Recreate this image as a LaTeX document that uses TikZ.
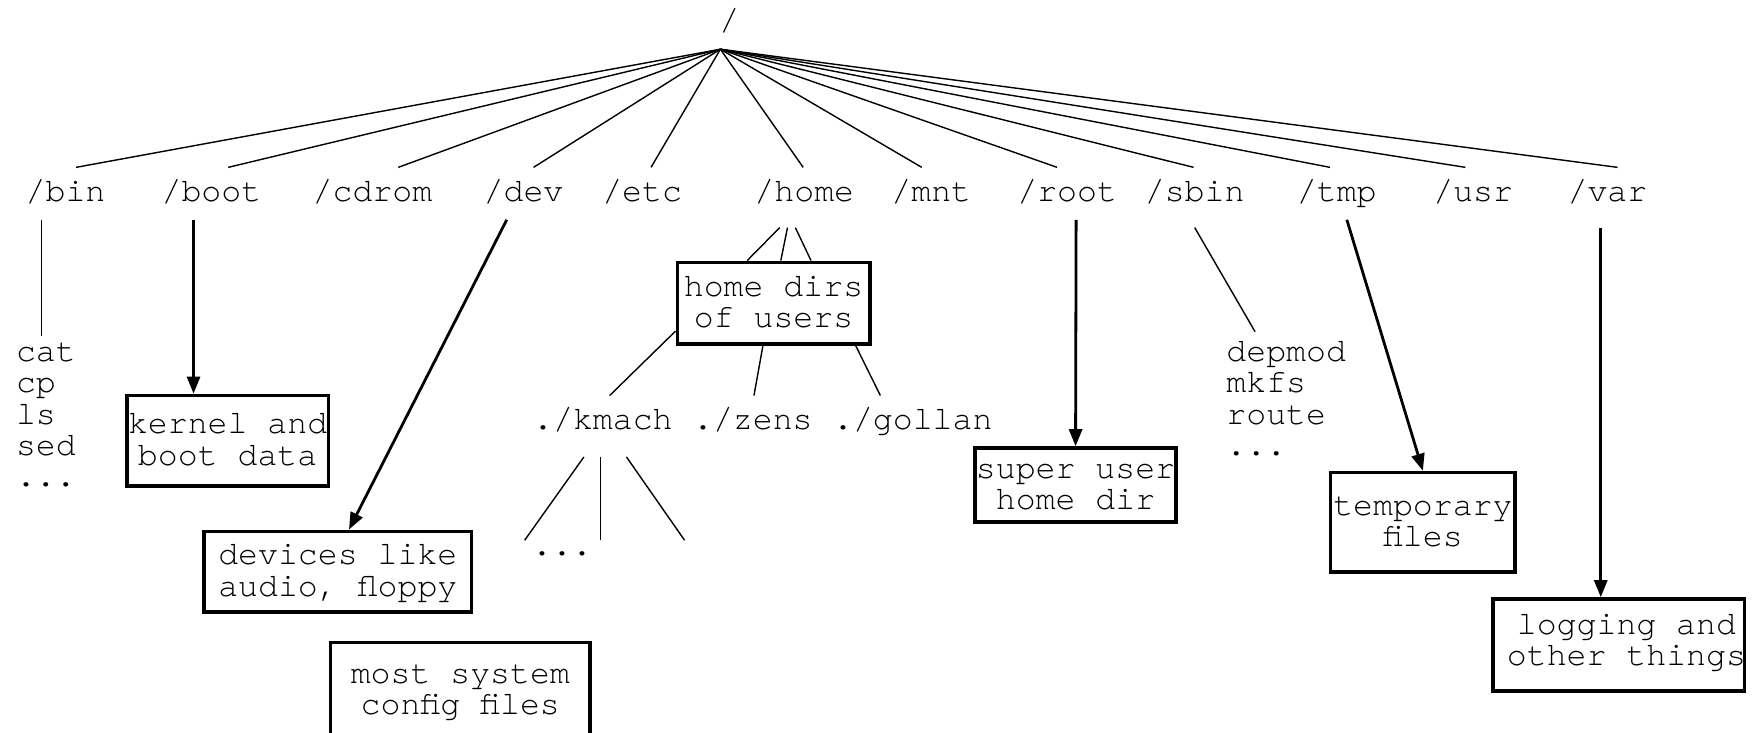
\documentclass[tikz,border=0pt]{standalone}
\usepackage{fontspec}
\setmonofont{texgyrecursor-regular.otf}
\usetikzlibrary{arrows.meta,calc}
\newcommand\mystrut{\rule[-3.4pt]{0pt}{15.7pt}}
\newcommand\deepstrut[1]{\rule[-#1]{0pt}{15.7pt}}
\newcommand\shiftline[2]{\hspace*{#1}#2\hspace*{-#1}}
\begin{document}
\begin{tikzpicture}[x=0.5593pt,y=-0.5593pt,
  every node/.style={font=\ttfamily\fontsize{16.6}{15.7}\selectfont},
  dir/.style={anchor=base, inner xsep=0pt, inner ysep=4.5pt, text height=12.3pt, text depth=4.5pt},
  flist/.style={anchor=north west, inner sep=0pt, align=left},
  info/.style={draw, line width=1.8pt, inner sep=0pt, align=center},
  tline/.style={line width=0.7pt},
  arr/.style={line width=1.4pt, -{Triangle[length=8.5pt,width=6.5pt]}},
]
\useasboundingbox (0,0) rectangle (1568,655);
\clip (0,0) rectangle (1568,655);

% root
\node[dir] (root) at (652,27) {/};
\coordinate (apex) at ($(root.base)+(-8,17)$);

% first level
\node[dir] (bin) at (58.6,180) {/bin};
\node[dir] (boot) at (189,180) {/boot};
\node[dir] (cdrom) at (333,180) {/cdrom};
\node[dir] (dev) at (468,180) {/dev};
\node[dir] (etc) at (574,180) {/etc};
\node[dir] (home) at (719,180) {/home};
\node[dir] (mnt) at (832.5,180) {/mnt};
\node[dir] (rootdir) at (954,180) {/root};
\node[dir] (sbin) at (1068,180) {/sbin};
\node[dir] (tmp) at (1195,180) {/tmp};
\node[dir] (usr) at (1317,180) {/usr};
\node[dir] (var) at (1437,180) {/var};

\foreach \n/\dx in {bin/9.4, boot/15, cdrom/23, dev/9, etc/8, home/-1, mnt/-8.5, rootdir/-9, sbin/-1, tmp/-6, usr/-7, var/9}
  \draw[tline] (apex) -- ($(\n.north)+(\dx,0)$);

% /bin
\node[flist] (binlist) at (14,300.6) {\mystrut cat\\\mystrut cp\\\mystrut ls\\\mystrut sed\\\mystrut ...};
\draw[tline] ($(bin.south)+(-21.6,0)$) -- ($(binlist.north west)+(23,0)$);

% /boot
\node[info, minimum width=100.7pt, minimum height=45.3pt] (kernel) at (203.5,394) {\mystrut kernel and\\\mystrut boot data};
\draw[arr] ($(boot.south)+(-16,0)$) -- ($(kernel.north)+(-30.5,0)$);

% /dev
\node[info, minimum width=133.7pt, minimum height=40.3pt] (devices) at (302,511) {\mystrut devices like\\\mystrut audio, floppy};
\draw[arr] ($(dev.south)+(-15,0)$) -- ($(devices.north)+(10,0)$);

% /etc
\node[info, minimum width=129.8pt, minimum height=50.3pt] (config) at (411.5,619.4) {\mystrut most system\\\deepstrut{6pt}config files};

% /home
\node[info, minimum width=96.2pt, minimum height=40.8pt] (homebox) at (691.5,271) {\mystrut home dirs\\\mystrut of users};
\foreach \a/\b in {-22/-23.5, -15/6.5, -8/33.5}
  \draw[tline] ($(home.south)+(\a,7)$) -- ($(homebox.north)+(\b,0)$);

\node[dir] (kmach) at (539,384) {./kmach};
\node[dir] (zens) at (673,384) {./zens};
\node[dir] (gollan) at (816,384) {./gollan};
\draw[tline] ($(homebox.west)+(0,25)$) -- ($(kmach.north)+(6,0)$);
\draw[tline] ($(homebox.south)+(-9.5,0)$) -- ($(zens.north)+(1,0)$);
\draw[tline] ($(homebox.south)+(73.5,0)$) -- ($(gollan.north)+(-29,0)$);

\coordinate (k1) at (469,483);
\coordinate (k2) at (537,483);
\coordinate (k3) at (612,483);
\draw[tline] ($(kmach.south)+(-17,8)$) -- (k1);
\draw[tline] ($(kmach.south)+(-2,8)$) -- (k2);
\draw[tline] ($(kmach.south)+(21,8)$) -- (k3);
\node[dir] (kdots) at (502.5,497) {...};

% /root
\node[info, minimum width=100.7pt, minimum height=36.9pt] (super) at (961.5,433.5) {\mystrut super user\\\mystrut home dir};
\draw[arr] ($(rootdir.south)+(8,0)$) -- (super.north);

% /sbin
\node[flist] (sbinlist) at (1096,300.6) {\mystrut depmod\\\mystrut mkfs\\\mystrut route\\\mystrut ...};
\draw[tline] ($(sbin.south)+(0,7)$) -- ($(sbinlist.north west)+(26,-4)$);

% /tmp
\node[info, minimum width=92.3pt, minimum height=49.8pt] (temp) at (1272,467) {\mystrut temporary\\\deepstrut{4pt}files};
\draw[arr] ($(tmp.south)+(9,0)$) -- (temp.north);

% /var
\node[info, minimum width=125.8pt, minimum height=45.9pt] (logbox) at (1447,576.5) {\mystrut\shiftline{3.9pt}{logging and}\\\deepstrut{7.3pt}\shiftline{3.9pt}{other things}};
\draw[arr] ($(var.south)+(-6,7)$) -- ($(logbox.north)+(-16,0)$);
\end{tikzpicture}
\end{document}
